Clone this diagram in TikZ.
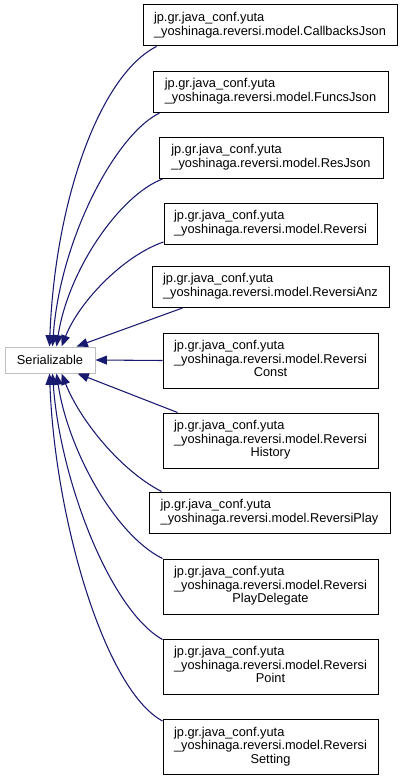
\documentclass[tikz,border=0pt]{standalone}
\usepackage{fontspec}
\setmainfont{Liberation Sans}
\usetikzlibrary{arrows.meta,calc}
\definecolor{edgeblue}{HTML}{191970}
\definecolor{sergray}{HTML}{BFBFBF}
\begin{document}
\begin{tikzpicture}[x=0.75pt,y=-0.75pt,
  cls/.style={draw=black,line width=0.75pt,fill=white,inner sep=0pt,minimum width=#1*0.75pt,font=\fontsize{9.6}{10.5}\selectfont},
  two/.style={minimum height=41*0.75pt},
  three/.style={minimum height=55*0.75pt},
  edge/.style={draw=edgeblue,line width=0.8pt,-{Triangle[length=8.5pt,width=6.6pt]}}]
\useasboundingbox (0,0) rectangle (404,781);
\newcommand{\twol}[1]{\begin{tabular}{@{}l@{}}jp.gr.java\_conf.yuta\\\_yoshinaga.reversi.model.#1\end{tabular}}
\newcommand{\threel}[1]{\begin{tabular}{@{}l@{}}jp.gr.java\_conf.yuta\\\_yoshinaga.reversi.model.Reversi\\\multicolumn{1}{@{}c@{}}{#1}\end{tabular}}
\renewcommand{\arraystretch}{0.98}
\node[draw=sergray,line width=0.75pt,fill=white,inner sep=0pt,minimum width=90*0.75pt,minimum height=26*0.75pt,font=\fontsize{9.6}{10.5}\selectfont] (ser) at (50,360) {Serializable};
\node[cls=254,two] (b1) at (270,25.5) {\twol{CallbacksJson}};
\node[cls=235,two] (b2) at (270.5,92) {\twol{FuncsJson}};
\node[cls=224,two] (b3) at (271,158) {\twol{ResJson}};
\node[cls=213,two] (b4) at (270.5,224) {\twol{Reversi}};
\node[cls=237,two] (b5) at (270.5,287) {\twol{ReversiAnz}};
\node[cls=215,three] (b6) at (270.5,360.5) {\threel{Const}};
\node[cls=215,three] (b7) at (270.5,440.5) {\threel{History}};
\node[cls=241,two] (b8) at (269.5,512.5) {\twol{ReversiPlay}};
\node[cls=215,three] (b9) at (270.5,586.5) {\threel{PlayDelegate}};
\node[cls=215,three] (b10) at (270.5,666.5) {\threel{Point}};
\node[cls=215,three] (b11) at (270.5,747) {\threel{Setting}};
\draw[edge] ($(b1.south west)+(14,0)$) .. controls (100,75) and (55,200) .. ($(ser.north west)+(45,0)$);
\draw[edge] ($(b2.south west)+(7,0)$) .. controls (115,135) and (60,240) .. ($(ser.north west)+(48,0)$);
\draw[edge] ($(b3.south west)+(4,0)$) .. controls (120,195) and (68,270) .. ($(ser.north west)+(52,0)$);
\draw[edge] ($(b4.west)+(0,18)$) .. controls (125,255) and (80,300) .. ($(ser.north west)+(57,0)$);
\draw[edge] ($(b5.south west)+(31,0)$) -- ($(ser.north west)+(72,0)$);
\draw[edge] (b6.west) -- (ser.east);
\draw[edge] ($(b7.north west)+(15,0)$) -- ($(ser.south west)+(73,0)$);
\draw[edge] ($(b8.north west)+(13,0)$) .. controls (120,470) and (80,420) .. ($(ser.south west)+(57,0)$);
\draw[edge] ($(b9.north west)+(0,0)$) .. controls (115,535) and (68,450) .. ($(ser.south west)+(52,0)$);
\draw[edge] ($(b10.north west)+(0,1)$) .. controls (110,610) and (60,480) .. ($(ser.south west)+(48,0)$);
\draw[edge] ($(b11.north west)+(0,2)$) .. controls (105,690) and (55,520) .. ($(ser.south west)+(45,0)$);
\end{tikzpicture}
\end{document}
